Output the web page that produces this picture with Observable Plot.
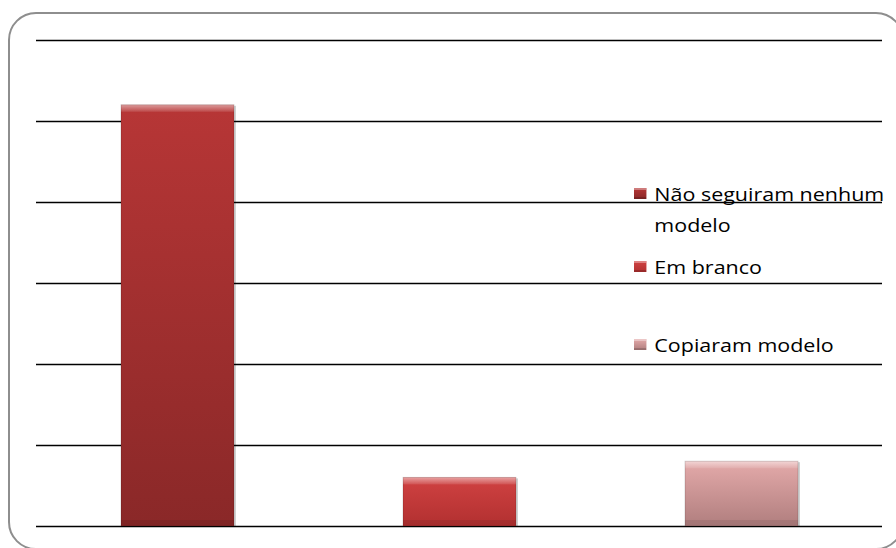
<!DOCTYPE html>
<html>
<head>
<meta charset="utf-8">
<script src="https://cdn.jsdelivr.net/npm/d3@7"></script>
<script src="https://cdn.jsdelivr.net/npm/@observablehq/plot@0.6"></script>
<style>
  html, body { margin: 0; padding: 0; background: #fff; }
  #wrap { position: relative; width: 896px; height: 548px; overflow: hidden; font-family: "Open Sans", sans-serif; }
  #border { position: absolute; left: 8px; top: 12px; width: 892px; height: 534px; border: 2px solid #8e8e8e; border-radius: 28px; }
  #chart { position: absolute; left: 0; top: 0; }
  .leg { position: absolute; left: 634px; font-size: 19px; color: #000; line-height: 31px; transform: scaleX(1.13); transform-origin: 0 0; white-space: nowrap; }
  .leg .sw { position: absolute; left: 0; width: 11px; height: 11px; }
  .leg .tx { position: absolute; left: 18px; }
</style>
</head>
<body>
<div id="wrap">
  <div id="border"></div>
  <div id="chart"></div>
</div>
<script>
// Data
const categories = ["Não seguiram nenhum modelo", "Em branco", "Copiaram modelo"];
const values = [52, 6, 8];
const yTicks = [0, 10, 20, 30, 40, 50, 60];
const legendLines = [["Não seguiram nenhum", "modelo"], ["Em branco"], ["Copiaram modelo"]];
const gradStops = [
  ["#b73636", "#8a2828"],
  ["#d04242", "#b23030"],
  ["#e4aaaa", "#b07e7e"]
];

const data = categories.map((c, i) => ({cat: c, value: values[i]}));
const gradIds = categories.map((c, i) => `url(#barg${i})`);

const svg = Plot.plot({
  width: 896,
  height: 548,
  marginLeft: 36,
  marginRight: 14,
  marginTop: 40,
  marginBottom: 22,
  x: {domain: categories, paddingInner: 0.6, paddingOuter: 0.3, axis: null},
  y: {domain: [0, 60], axis: null},
  color: {type: "ordinal", domain: categories, range: gradIds},
  marks: [
    Plot.ruleY(yTicks, {stroke: "#000", strokeWidth: 1.6}),
    Plot.barY(data, {x: "cat", y: "value", fill: "#000", fillOpacity: 0.18, dx: 2, dy: 1}),
    Plot.barY(data, {x: "cat", y: "value", fill: "cat"}),
    Plot.barY(data, {x: "cat", y1: "value", y2: "value", insetBottom: -7, fill: "url(#hilite)"}),
    Plot.barY(data, {x: "cat", y1: 0, y2: 0, insetTop: -6, fill: "#000", fillOpacity: 0.08}),
    Plot.barY(data, {x: "cat", y: "value", fill: "none", stroke: "#000", strokeOpacity: 0.15, strokeWidth: 1})
  ]
});

const defs = d3.select(svg).insert("defs", ":first-child");
gradStops.forEach((s, i) => {
  const g = defs.append("linearGradient").attr("id", `barg${i}`).attr("x1", 0).attr("y1", 0).attr("x2", 0).attr("y2", 1);
  g.append("stop").attr("offset", "0%").attr("stop-color", s[0]);
  g.append("stop").attr("offset", "100%").attr("stop-color", s[1]);
});
const h = defs.append("linearGradient").attr("id", "hilite").attr("x1", 0).attr("y1", 0).attr("x2", 0).attr("y2", 1);
h.append("stop").attr("offset", "0%").attr("stop-color", "#fff").attr("stop-opacity", 0.5);
h.append("stop").attr("offset", "100%").attr("stop-color", "#fff").attr("stop-opacity", 0.1);

document.getElementById("chart").appendChild(svg);

// Legend (HTML)
const legendTops = [179, 252, 330];
const wrap = document.getElementById("wrap");
legendLines.forEach((lines, i) => {
  const d = document.createElement("div");
  d.className = "leg";
  d.style.top = legendTops[i] + "px";
  const sw = document.createElement("span");
  sw.className = "sw";
  sw.style.top = "9px";
  sw.style.background = `linear-gradient(to bottom, ${gradStops[i][0]}, ${gradStops[i][1]})`;
  sw.style.boxShadow = "inset 0 2px 0 rgba(255,255,255,0.35), inset 0 -2px 0 rgba(0,0,0,0.15)";
  d.appendChild(sw);
  const tx = document.createElement("span");
  tx.className = "tx";
  tx.innerHTML = lines.join("<br>");
  d.appendChild(tx);
  wrap.appendChild(d);
});
</script>
</body>
</html>
